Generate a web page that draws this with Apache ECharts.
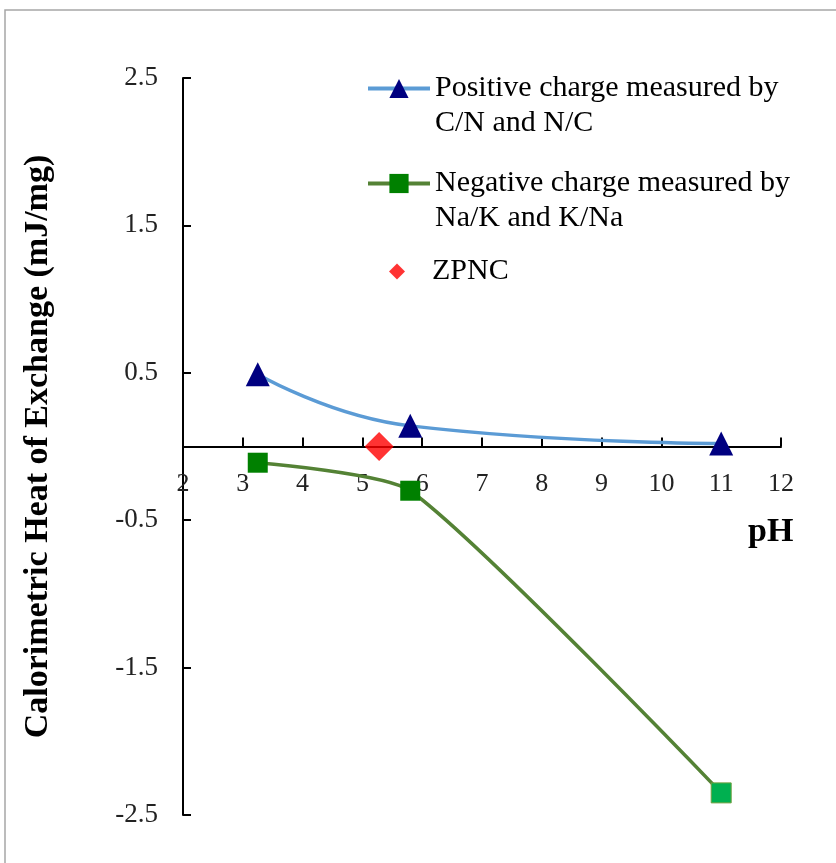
<!DOCTYPE html>
<html>
<head>
<meta charset="utf-8">
<script src="https://cdn.jsdelivr.net/npm/echarts@6/dist/echarts.min.js"></script>
<style>
  html, body { margin: 0; padding: 0; background: #fff; }
  #chart { width: 836px; height: 863px; }
</style>
</head>
<body>
<div id="chart"></div>
<script>
// values
const posPh = [3.25, 5.8, 11];
const posHeat = [0.49, 0.14, 0.02];
const negPh = [3.25, 5.8, 11];
const negHeat = [-0.11, -0.3, -2.35];
const zpncPh = [5.28];
const zpncHeat = [0];

const posName = "Positive charge measured by\nC/N and N/C";
const negName = "Negative charge measured by\nNa/K and K/Na";
const zpncName = "ZPNC";

const FONT = "Liberation Serif";
const pairs = (xs, ys) => xs.map((x, i) => [x, ys[i]]);

const negData = pairs(negPh, negHeat);
// last square is a lighter green in the original
negData[2] = { value: negData[2], itemStyle: { color: "#00b050", borderColor: "#70a040", borderWidth: 1 } };

const legendText = { fontFamily: FONT, fontSize: 30, color: "#000", lineHeight: 35 };
// empty first line so the icon sits level with the first text line
const twoLine = name => "\n" + name;

const chart = echarts.init(document.getElementById("chart"));
chart.setOption({
  animation: false,
  grid: { left: 183, right: 55, top: 78, bottom: 48 },
  legend: [
    {
      data: [posName], formatter: twoLine, textStyle: legendText,
      left: 366, top: 36, padding: 0, itemWidth: 62, itemHeight: 24,
      lineStyle: { width: 4 }
    },
    {
      data: [negName], formatter: twoLine, textStyle: legendText,
      left: 366, top: 131, padding: 0, itemWidth: 62, itemHeight: 24,
      lineStyle: { width: 4 }
    },
    {
      data: [{ name: zpncName, icon: "diamond" }],
      formatter: "{p|{name}}",
      textStyle: Object.assign({ rich: { p: Object.assign({ padding: [0, 0, 0, 22] }, legendText) } }, legendText),
      left: 389, top: 254, padding: 0, itemWidth: 16, itemHeight: 16
    }
  ],
  xAxis: {
    type: "value",
    min: 2, max: 12, interval: 1,
    offset: -368.5,
    axisLine: { onZero: false, lineStyle: { color: "#000", width: 2 } },
    axisTick: { inside: true, length: 9, lineStyle: { color: "#000", width: 2 } },
    axisLabel: { fontFamily: FONT, fontSize: 26, color: "#222", margin: 25 },
    splitLine: { show: false }
  },
  yAxis: {
    type: "value",
    min: -2.5, max: 2.5, interval: 1,
    name: "Calorimetric Heat of Exchange (mJ/mg)",
    nameLocation: "middle",
    nameGap: 128,
    nameTextStyle: { fontFamily: FONT, fontSize: 34, fontWeight: "bold", color: "#000" },
    axisLine: { show: true, lineStyle: { color: "#000", width: 2 } },
    axisTick: { show: true, inside: true, length: 8, lineStyle: { color: "#000", width: 2 } },
    axisLabel: { fontFamily: FONT, fontSize: 27, color: "#222", margin: 25, formatter: v => v.toFixed(1) },
    splitLine: { show: false }
  },
  series: [
    {
      name: posName,
      type: "line",
      smooth: 0.5,
      data: pairs(posPh, posHeat),
      symbol: "triangle",
      symbolSize: 24,
      lineStyle: { color: "#5b9bd5", width: 3.5 },
      itemStyle: { color: "#000080" },
      z: 3
    },
    {
      name: negName,
      type: "line",
      smooth: 0.2,
      data: negData,
      symbol: "rect",
      symbolSize: 20,
      lineStyle: { color: "#548235", width: 3.5 },
      itemStyle: { color: "#008000" },
      z: 3
    },
    {
      name: zpncName,
      type: "scatter",
      data: pairs(zpncPh, zpncHeat),
      symbol: "diamond",
      symbolSize: 29,
      itemStyle: { color: "#ff0000" },
      z: 4
    }
  ],
  graphic: [
    {
      type: "rect",
      shape: { x: 5, y: 10, width: 900, height: 900 },
      style: { fill: "none", stroke: "#a6a6a6", lineWidth: 1.5 },
      silent: true
    },
    {
      type: "text",
      left: 748, top: 515,
      style: { text: "pH", font: "bold 34px " + FONT, fill: "#000" }
    }
  ]
});
</script>
</body>
</html>
